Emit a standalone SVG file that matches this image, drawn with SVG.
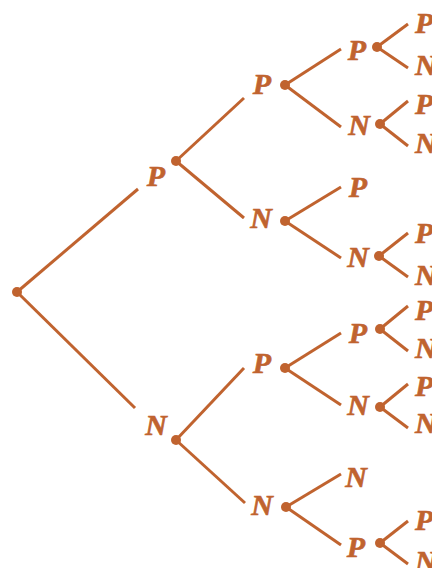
<svg xmlns="http://www.w3.org/2000/svg" width="432" height="568" viewBox="0 0 432 568">
<style>
.e{stroke:#c0632f;stroke-width:3;fill:none;stroke-linecap:butt}
.d{fill:#c0632f}
.t{font-family:"Liberation Serif","DejaVu Serif",serif;font-weight:bold;font-style:italic;font-size:30px;fill:#c0632f;stroke:#c0632f;stroke-width:0.6;text-anchor:middle}
.s{text-anchor:start}
</style>
<rect width="432" height="568" fill="#fff"/>
<g id="connectors">
<line class="e" x1="17" y1="292" x2="138" y2="189"/>
<line class="e" x1="17" y1="292" x2="135" y2="408"/>
<line class="e" x1="176" y1="161" x2="244" y2="98"/>
<line class="e" x1="176" y1="161" x2="244" y2="218"/>
<line class="e" x1="176" y1="440" x2="244" y2="368"/>
<line class="e" x1="176" y1="440" x2="245" y2="503"/>
<line class="e" x1="285" y1="85" x2="341" y2="49"/>
<line class="e" x1="285" y1="85" x2="341" y2="127"/>
<line class="e" x1="285" y1="221" x2="341" y2="187"/>
<line class="e" x1="285" y1="221" x2="341" y2="258"/>
<line class="e" x1="285" y1="368" x2="341" y2="333"/>
<line class="e" x1="285" y1="368" x2="341" y2="405"/>
<line class="e" x1="286" y1="507" x2="341" y2="474"/>
<line class="e" x1="286" y1="507" x2="341" y2="545"/>
<line class="e" x1="377" y1="47" x2="408" y2="24"/>
<line class="e" x1="377" y1="47" x2="408" y2="68"/>
<line class="e" x1="380" y1="124" x2="408" y2="101"/>
<line class="e" x1="380" y1="124" x2="408" y2="146"/>
<line class="e" x1="379" y1="256" x2="408" y2="233"/>
<line class="e" x1="379" y1="256" x2="408" y2="277"/>
<line class="e" x1="380" y1="329" x2="408" y2="306"/>
<line class="e" x1="380" y1="329" x2="408" y2="351"/>
<line class="e" x1="380" y1="407" x2="408" y2="384"/>
<line class="e" x1="380" y1="407" x2="408" y2="428"/>
<line class="e" x1="380" y1="543" x2="408" y2="521"/>
<line class="e" x1="380" y1="543" x2="408" y2="564"/>
</g>
<g id="root"><circle class="d" cx="17" cy="292" r="5"/></g>
<g id="n-P"><text class="t" x="156" y="186">P</text><circle class="d" cx="176" cy="161" r="5"/></g>
<g id="n-N"><text class="t" x="156" y="435">N</text><circle class="d" cx="176" cy="440" r="5"/></g>
<g id="n-PP"><text class="t" x="262" y="94">P</text><circle class="d" cx="285" cy="85" r="5"/></g>
<g id="n-PN"><text class="t" x="261" y="228">N</text><circle class="d" cx="285" cy="221" r="5"/></g>
<g id="n-NP"><text class="t" x="262" y="373">P</text><circle class="d" cx="285" cy="368" r="5"/></g>
<g id="n-NN"><text class="t" x="262" y="515">N</text><circle class="d" cx="286" cy="507" r="5"/></g>
<g id="n-PPP"><text class="t" x="357" y="60">P</text><circle class="d" cx="377" cy="47" r="5"/></g>
<g id="n-PPN"><text class="t" x="359" y="135">N</text><circle class="d" cx="380" cy="124" r="5"/></g>
<g id="n-PNP"><text class="t" x="358" y="197">P</text></g>
<g id="n-PNN"><text class="t" x="358" y="267">N</text><circle class="d" cx="379" cy="256" r="5"/></g>
<g id="n-NPP"><text class="t" x="358" y="343">P</text><circle class="d" cx="380" cy="329" r="5"/></g>
<g id="n-NPN"><text class="t" x="358" y="415">N</text><circle class="d" cx="380" cy="407" r="5"/></g>
<g id="n-NNN"><text class="t" x="356" y="487">N</text></g>
<g id="n-NNP"><text class="t" x="356" y="557">P</text><circle class="d" cx="380" cy="543" r="5"/></g>
<g id="n-PPPP"><text class="t s" x="415" y="33">P</text></g>
<g id="n-PPPN"><text class="t s" x="415" y="75">N</text></g>
<g id="n-PPNP"><text class="t s" x="415" y="114">P</text></g>
<g id="n-PPNN"><text class="t s" x="415" y="153">N</text></g>
<g id="n-PNNP"><text class="t s" x="415" y="243">P</text></g>
<g id="n-PNNN"><text class="t s" x="415" y="285">N</text></g>
<g id="n-NPPP"><text class="t s" x="415" y="320">P</text></g>
<g id="n-NPPN"><text class="t s" x="415" y="358">N</text></g>
<g id="n-NPNP"><text class="t s" x="415" y="396">P</text></g>
<g id="n-NPNN"><text class="t s" x="415" y="433">N</text></g>
<g id="n-NNPP"><text class="t s" x="415" y="530">P</text></g>
<g id="n-NNPN"><text class="t s" x="415" y="571">N</text></g>
</svg>
